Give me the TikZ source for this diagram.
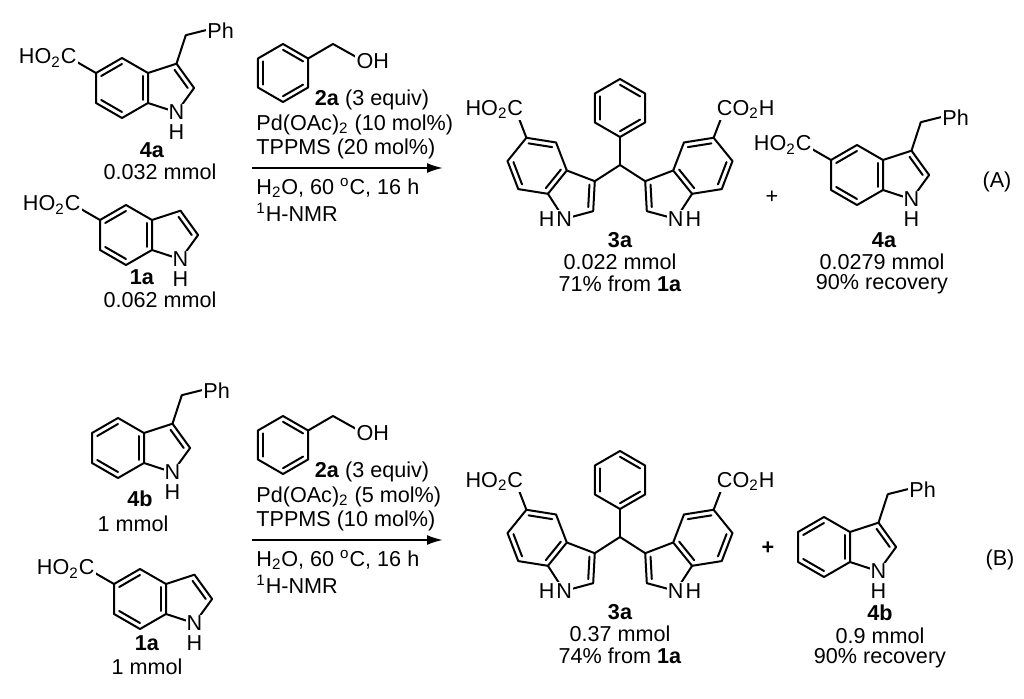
\documentclass[tikz,border=0pt]{standalone}
\usepackage{fontspec}
\setmainfont{Liberation Sans}
\usetikzlibrary{calc,arrows.meta}
\tikzset{bond/.style={line width=1pt,line cap=round,line join=round},
 lab/.style={fill=white,inner sep=0.6pt,font=\fontsize{10.8}{12}\selectfont},
 txt/.style={inner sep=0pt,font=\fontsize{10.8}{12}\selectfont},
 btxt/.style={inner sep=0pt,font=\fontsize{10.8}{12}\selectfont\bfseries},
 rxn/.style={line width=1pt,-{Latex[length=8pt,width=5pt]}}}
\newcommand\innerb[3]{\draw[bond] ($(#1)!0.2!(#3)$)--($(#2)!0.2!(#3)$);}
\newcommand\indole[2]{%
\begin{scope}[#2]
\coordinate (#1a) at (0,0);
\coordinate (#1b) at (0,30);
\coordinate (#1c4) at (-26,-15);
\coordinate (#1c5) at (-52,0);
\coordinate (#1c6) at (-52,30);
\coordinate (#1c7) at (-26,45);
\coordinate (#1h) at (-26,15);
\coordinate (#1c3) at (28.5,-9.3);
\coordinate (#1c2) at (46.1,15);
\coordinate (#1n) at (28.5,39.3);
\coordinate (#1p) at (20.6,15);
\coordinate (#1x5) at (-78,-15);
\coordinate (#1x3) at (37.8,-37.8);
\end{scope}
\draw[bond] (#1a)--(#1c4)--(#1c5)--(#1c6)--(#1c7)--(#1b)--cycle;
\draw[bond] (#1a)--(#1c3)--(#1c2)--(#1n)--(#1b);
\innerb{#1c4}{#1c5}{#1h}\innerb{#1c6}{#1c7}{#1h}\innerb{#1a}{#1b}{#1h}
\draw[bond] ($(#1c3)!0.25!(#1p)$)--($(#1c2)!0.25!(#1p)$);}
\newcommand\benz[2]{%
\coordinate (#1t) at ($(#2)+(0,-29)$);
\coordinate (#1tr) at ($(#2)+(25.1,-14.5)$);
\coordinate (#1br) at ($(#2)+(25.1,14.5)$);
\coordinate (#1bo) at ($(#2)+(0,29)$);
\coordinate (#1bl) at ($(#2)+(-25.1,14.5)$);
\coordinate (#1tl) at ($(#2)+(-25.1,-14.5)$);
\draw[bond] (#1t)--(#1tr)--(#1br)--(#1bo)--(#1bl)--(#1tl)--cycle;
\innerb{#1bl}{#1tl}{#2}\innerb{#1t}{#1tr}{#2}\innerb{#1br}{#1bo}{#2}}
\newcommand\nhdown[1]{%
 \node[lab] (#1nl) at (#1n) {N};
 \node[lab,anchor=north,inner sep=0pt] (#1hl) at ($(#1nl.south)+(0,3)$) {H};}
\newcommand\benzylind[2]{%
 \indole{#1}{shift={#2}}
 \draw[bond] (#1c3)--(#1x3)--($(#1x3)+(20,-5)$) coordinate (#1q);
 \node[lab,anchor=west] (#1ph) at (#1q) {Ph};
 \nhdown{#1}}
\newcommand\acidleft[1]{%
 \draw[bond] (#1c5)--(#1x5);
 \node[lab,anchor=east] (#1co) at ($(#1x5)+(8,0)$) {HO\textsubscript{2}C};}
\newcommand\threea[2]{%
 \coordinate (#1ctr) at (620,108+#2);
 \benz{#1P}{#1ctr}
 \coordinate (#1ch) at (620,165+#2);
 \draw[bond] (#1Pbo)--(#1ch);
 \indole{#1L}{shift={(566.8,170.5+#2)},rotate=-39}
 \indole{#1R}{shift={(673.2,170.5+#2)},xscale=-1,rotate=-39}
 \draw[bond] (#1Lc3)--(#1ch)--(#1Rc3);
 \draw[bond] (#1Lc5)--(#1Lx5);
 \draw[bond] (#1Rc5)--(#1Rx5);
 \node[lab,anchor=east] (#1Lco) at ($(#1Lx5)+(9,0)$) {HO\textsubscript{2}C};
 \node[lab,anchor=west] (#1Rco) at ($(#1Rx5)+(-9,0)$) {CO\textsubscript{2}H};
 \node[lab] (#1Lnl) at (#1Ln) {N};
 \node[lab,anchor=east,inner sep=0pt] (#1Lhl) at (#1Lnl.west) {H};
 \node[lab] (#1Rnl) at (#1Rn) {N};
 \node[lab,anchor=west,inner sep=0pt] (#1Rhl) at (#1Rnl.east) {H};}
\newcommand\benzoh[3]{%
 \coordinate (#1c) at (283,#3);
 \benz{#1}{#1c}
 \coordinate (#1ch) at (333,#3-29);
 \coordinate (#1oh) at (358,#3-15);
 \draw[bond] (#1tr)--(#1ch)--(#1oh);
 \node[lab,anchor=west] (#1ohl) at ($(#1oh)+(-3,3)$) {OH};}
\begin{document}
\begin{tikzpicture}[x=0.5pt,y=-0.5pt]
\useasboundingbox (0,0) rectangle (1024,699);
% ===== Scheme A
\benzylind{A}{(148,73)}\acidleft{A}
\node[btxt] (l4a) at (152,150) {4a};
\node[txt] (m4a) at (160,172) {0.032 mmol};
\indole{B}{shift={(152,220)}}\acidleft{B}\nhdown{B}
\node[btxt] (l1a) at (142,277) {1a};
\node[txt] (m1a) at (160,300) {0.062 mmol};
\benzoh{Z}{}{73}
\node[txt] (c2a) at (372,100) {\textbf{2a} (3 equiv)};
\node[txt,anchor=west] (cpd) at (256,125) {Pd(OAc)\textsubscript{2} (10 mol\%)};
\node[txt,anchor=west] (ctp) at (256,149) {TPPMS (20 mol\%)};
\coordinate (arA1) at (252,168);
\coordinate (arA2) at (443,168);
\draw[rxn] (arA1)--(arA2);
\node[txt,anchor=west] (ch2o) at (256,188) {H\textsubscript{2}O, 60 \textsuperscript{o}C, 16 h};
\node[txt,anchor=west] (cnmr) at (256,212) {\textsuperscript{1}H-NMR};
\threea{X}{0}
\node[btxt] (l3a) at (620,240) {3a};
\node[txt] (m3a) at (620,262) {0.022 mmol};
\node[txt] (y3a) at (620,284) {71\% from \textbf{1a}};
\node[txt] (plusA) at (772,197) {+};
\benzylind{C}{(883,160)}\acidleft{C}
\node[btxt] (l4a2) at (884,240) {4a};
\node[txt] (m4a2) at (882,262) {0.0279 mmol};
\node[txt] (r4a2) at (882,284) {90\% recovery};
\node[txt] (tagA) at (997,182) {(A)};
% ===== Scheme B
\benzylind{D}{(144,433)}
\node[btxt] (l4b) at (140,499) {4b};
\node[txt] (m4b) at (133,524) {1 mmol};
\indole{E}{shift={(166,584)}}\acidleft{E}\nhdown{E}
\node[btxt] (l1b) at (147,643) {1a};
\node[txt] (m1b) at (147,667) {1 mmol};
\benzoh{Y}{}{445}
\node[txt] (d2a) at (372,472) {\textbf{2a} (3 equiv)};
\node[txt,anchor=west] (dpd) at (256,497) {Pd(OAc)\textsubscript{2} (5 mol\%)};
\node[txt,anchor=west] (dtp) at (256,521) {TPPMS (10 mol\%)};
\coordinate (arB1) at (252,540);
\coordinate (arB2) at (443,540);
\draw[rxn] (arB1)--(arB2);
\node[txt,anchor=west] (dh2o) at (256,560) {H\textsubscript{2}O, 60 \textsuperscript{o}C, 16 h};
\node[txt,anchor=west] (dnmr) at (256,584) {\textsuperscript{1}H-NMR};
\threea{W}{372}
\node[btxt] (l3b) at (620,612) {3a};
\node[txt] (m3b) at (620,634) {0.37 mmol};
\node[txt] (y3b) at (620,656) {74\% from \textbf{1a}};
\node[btxt] (plusB) at (768,548) {+};
\benzylind{F}{(850,532)}
\node[btxt] (l4b2) at (880,613) {4b};
\node[txt] (m4b2) at (880,636) {0.9 mmol};
\node[txt] (r4b2) at (880,658) {90\% recovery};
\node[txt] (tagB) at (1000,560) {(B)};
\end{tikzpicture}
\end{document}
